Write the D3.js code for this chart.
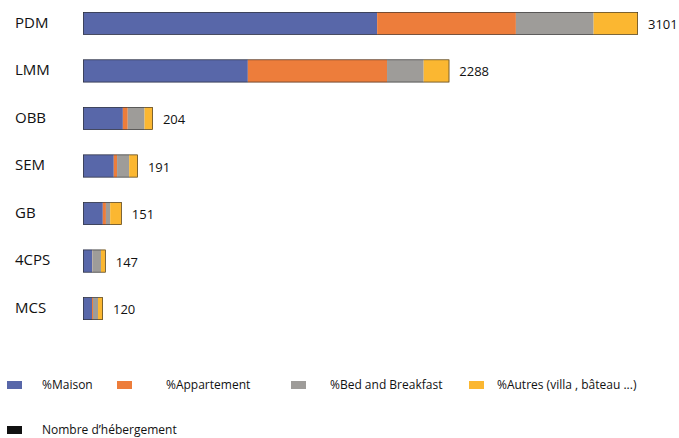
<!DOCTYPE html>
<html>
<head>
<meta charset="utf-8">
<script src="https://cdn.jsdelivr.net/npm/d3@7"></script>
<style>
  body { margin: 0; background: #fff; }
  text { font-family: "Open Sans", sans-serif; fill: #111; }
</style>
</head>
<body>
<svg id="chart" width="679" height="438"></svg>
<script>
// categories and values
const categories = ['PDM', 'LMM', 'OBB', 'SEM', 'GB', '4CPS', 'MCS']
const nombre = [3101, 2288, 204, 191, 151, 147, 120]
// relative bar length as drawn (PDM = 100)
const longueur = [100, 66, 12.6, 9.9, 7, 4.1, 3.6]
// share of each type, %
const maison = [53, 45, 57, 56, 51, 40, 45]
const appartement = [25, 38, 7, 6, 8, 1, 5]
const bedBreakfast = [14, 10, 24, 22, 11, 38, 25]
const autres = [8, 7, 12, 16, 30, 21, 25]
const typeLabels = ['%Maison', '%Appartement', '%Bed and Breakfast', '%Autres (villa , bâteau ...)']

const colors = ['#5867a9', '#ed7d3b', '#9e9c99', '#fbb731']
const series = [maison, appartement, bedBreakfast, autres]

const svg = d3.select('#chart')
const left = 83
const barMax = 555

const x = d3.scaleLinear().domain([0, 100]).range([0, barMax])
const y = d3.scaleBand().domain(categories).range([12, 320]).paddingInner(0.52).paddingOuter(0)

const rows = svg.append('g').selectAll('g')
    .data(categories)
    .enter()
    .append('g')
    .attr('transform', d => `translate(0,${y(d)})`)

// category labels
rows.append('text')
    .attr('x', 15)
    .attr('y', y.bandwidth() / 2 - 1)
    .attr('dy', '0.35em')
    .style('font-size', '15px')
    .text(d => d)

// stacked segments
rows.each(function (cat, i) {
    const g = d3.select(this)
    const total = longueur[i]
    let acc = 0
    series.forEach((s, k) => {
        const w = total * s[i] / 100
        g.append('rect')
            .attr('x', left + x(acc))
            .attr('y', 0)
            .attr('width', x(w))
            .attr('height', y.bandwidth())
            .attr('fill', colors[k])
        acc += w
    })
    // thin outline for "Nombre d'hébergement"
    g.append('rect')
        .attr('x', left + 0.3)
        .attr('y', 0.3)
        .attr('width', x(total) - 0.6)
        .attr('height', y.bandwidth() - 0.6)
        .attr('fill', 'none')
        .attr('stroke', '#2a2a2a')
        .attr('stroke-width', 0.6)

    g.append('text')
        .attr('x', left + x(total) + 10)
        .attr('y', y.bandwidth() / 2 + 1)
        .attr('dy', '0.35em')
        .style('font-size', '13px')
        .text(nombre[i])
})

// legend
const legendX = [7, 117, 291, 469]
const legendTextX = [42, 166, 330, 497]
const legend = svg.append('g')
typeLabels.forEach((t, k) => {
    legend.append('rect')
        .attr('x', legendX[k])
        .attr('y', 381)
        .attr('width', 15)
        .attr('height', 8)
        .attr('fill', colors[k])
    legend.append('text')
        .attr('x', legendTextX[k])
        .attr('y', 385)
        .attr('dy', '0.35em')
        .style('font-size', '12px')
        .text(t)
})
legend.append('rect')
    .attr('x', 7)
    .attr('y', 426)
    .attr('width', 15)
    .attr('height', 8)
    .attr('fill', '#111')
legend.append('text')
    .attr('x', 42)
    .attr('y', 430)
    .attr('dy', '0.35em')
    .style('font-size', '12px')
    .text('Nombre d’hébergement')
</script>
</body>
</html>
